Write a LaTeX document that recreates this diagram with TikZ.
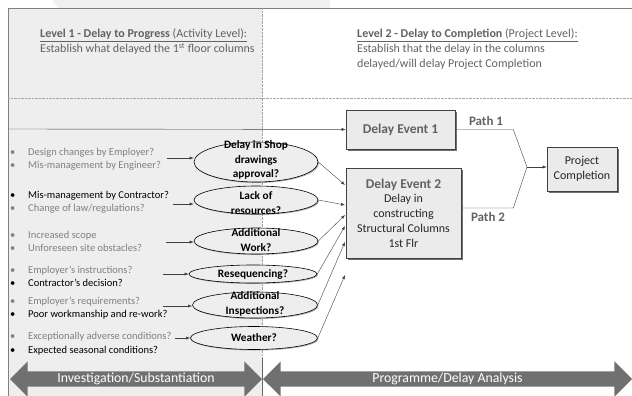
\documentclass[tikz,border=0pt]{standalone}
\usepackage{fontspec}
\setmainfont{Carlito}
\usetikzlibrary{arrows.meta}
\usetikzlibrary{shapes.geometric}
\usetikzlibrary{shapes.arrows}
\usetikzlibrary{shadows}
\definecolor{panel}{HTML}{EEEEEE}
\definecolor{txtgrey}{HTML}{808080}
\definecolor{hdrgrey}{HTML}{626262}
\definecolor{linegrey}{HTML}{404040}
\definecolor{bandgrey}{HTML}{707070}
\definecolor{boxfill}{HTML}{EBEBEB}

\begin{document}
\begin{tikzpicture}[x=1pt, y=-1pt,
  evbox/.style={draw=linegrey, fill=boxfill, semithick, inner sep=0pt, align=center,
    drop shadow={shadow xshift=1.5pt, shadow yshift=-1.5pt, fill=black!70, opacity=0.8}},
  cause/.style={ellipse, draw=black, semithick, fill=panel, inner sep=0pt,
    drop shadow={shadow xshift=1pt, shadow yshift=-1pt, fill=black!60, opacity=0.5}},
  causetext/.style={font=\fontsize{11.3}{14.3}\selectfont\bfseries, align=center, inner sep=0pt},
  bul/.style={anchor=base west, font=\fontsize{10.5}{12}\selectfont, inner sep=0pt},
  hdr/.style={anchor=north west, align=left, text=hdrgrey, inner sep=0pt, font=\fontsize{12}{15}\selectfont},
  arr/.style={-{Latex[length=4pt,width=3pt]}, linegrey},
  band/.style={double arrow, fill=bandgrey, text=white, double arrow head extend=10pt,
    minimum width=35pt, inner ysep=2.5pt, text height=8pt, text depth=2pt,
    font=\fontsize{13.8}{15}\selectfont}]
\useasboundingbox (0,0) rectangle (632,396);
% background panels
\fill[black!6] (52,0) -- (330,0) -- (330,8) -- (58,8) -- cycle;
\fill[panel] (8,8) rectangle (262,396);
\draw[black!50, semithick] (632,8) -- (8,8) -- (8,396);
\draw[black!35, densely dotted] (262,8) -- (262,358);
\draw[black!35, densely dotted] (8,98) -- (632,98);
% headings
\node[hdr] (lvl1) at (40,28.5) {\underline{\textbf{Level 1 - Delay to Progress} (Activity Level):}\\
  Establish what delayed the 1\textsuperscript{st} floor columns};
\node[hdr] (lvl2) at (357,28.5) {\underline{\textbf{Level 2 - Delay to Completion} (Project Level):}\\
  Establish that the delay in the columns\\delayed/will delay Project Completion};
%
% bullet lists
\foreach \y/\c/\t [count=\i] in {155/txtgrey/{Design changes by Employer?},
    168/txtgrey/{Mis-management by Engineer?},
    198/black/{Mis-management by Contractor?},
    211/txtgrey/{Change of law/regulations?},
    238/txtgrey/{Increased scope},
    251/txtgrey/{Unforeseen site obstacles?},
    273/txtgrey/{Employer’s instructions?},
    286/black/{Contractor’s decision?},
    304/txtgrey/{Employer’s requirements?},
    317/black/{Poor workmanship and re-work?},
    339/txtgrey/{Exceptionally adverse conditions?},
    353/black/{Expected seasonal conditions?}}{
\node[bul, text=\c] (bu\i) at (10,\y) {\textbullet};
\node[bul, text=\c] (bt\i) at (28,\y) {\t};
}
%
% cause ellipses
\node[cause, minimum width=124pt, minimum height=40pt] (e1) at (256,162) {};
\node[cause, minimum width=124pt, minimum height=28pt] (e2) at (256,200) {};
\node[cause, minimum width=124pt, minimum height=26pt] (e3) at (256,241) {};
\node[cause, minimum width=128pt, minimum height=18pt] (e4) at (253,274) {};
\node[cause, minimum width=125pt, minimum height=26pt] (e5) at (255,305) {};
\node[cause, minimum width=127pt, minimum height=23pt] (e6) at (254,338) {};
\node[causetext] (c1) at (256,160) {Delay in Shop\\drawings\\approval?};
\node[causetext] (c2) at (256,203) {Lack of\\resources?};
\node[causetext] (c3) at (256,240) {Additional\\Work?};
\node[causetext] (c4) at (253,274) {Resequencing?};
\node[causetext] (c5) at (255,304) {Additional\\Inspections?};
\node[causetext] (c6) at (254,338) {Weather?};
%
% delay events
\node[evbox, minimum width=109pt, minimum height=39pt, text=hdrgrey,
  font=\fontsize{13.5}{15}\selectfont\bfseries] (de1) at (400.5,129.5) {Delay Event 1};
\node[evbox, minimum width=115pt, minimum height=90pt, text=black!85,
  font=\fontsize{12}{14.8}\selectfont] (de2) at (403.5,213)
  {{\color{hdrgrey}\bfseries\fontsize{13.5}{14.8}\selectfont Delay Event 2}\\Delay in\\constructing\\Structural Columns\\1st Flr};
\node[evbox, minimum width=70pt, minimum height=44pt, text=black!85,
  font=\fontsize{12}{15.5}\selectfont] (pc) at (582,169) {Project\\Completion};
%
% arrows into causes and events
\foreach \i/\x/\y in {1/167/158, 2/173/204, 3/166/242, 4/163/274, 5/163/306, 6/175/338}{
\coordinate (g\i) at (\x,\y);
\draw[arr] (g\i) -- (g\i -| e\i.west);
}
\foreach \i/\y in {1/185, 2/205, 3/215, 4/226, 5/242, 6/275}{
\coordinate (t\i) at (345,\y);
\draw[arr] (e\i.east) -- (t\i);
}
\coordinate (lft) at (8,129);
\draw[arr] (lft) -- (de1);
%
% paths to completion
\coordinate (mrg) at (527,167);
\draw[linegrey] (de1.east) -- ++(58,0) -- (mrg);
\draw[linegrey] ([yshift=5pt]de2.east) -- ++(52,0) -- (mrg);
\draw[arr] (mrg) -- (mrg -| pc.west);
\node[text=hdrgrey, font=\fontsize{13}{14}\selectfont\bfseries] (p1) at (486,121) {Path 1};
\node[text=hdrgrey, font=\fontsize{13}{14}\selectfont\bfseries] (p2) at (488,217) {Path 2};
%
% bottom bands
\node[band, minimum height=252pt] (inv) at (136,379) {Investigation/Substantiation};
\node[band, minimum height=369pt] (prog) at (447.5,379) {Programme/Delay Analysis};
\draw[black!60] (262,358) -- (262,396);
\end{tikzpicture}
\end{document}
